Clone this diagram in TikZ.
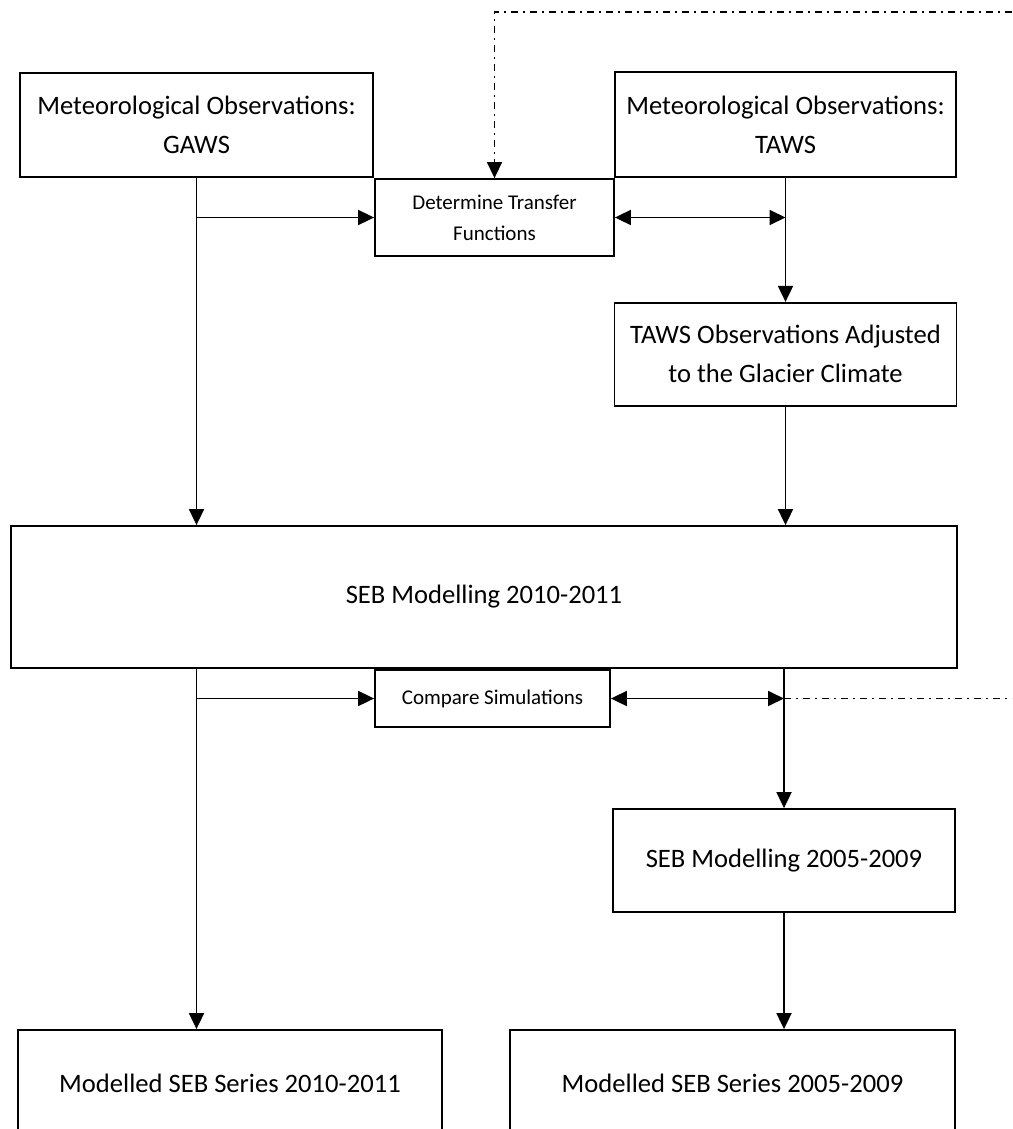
\documentclass[tikz,border=0pt]{standalone}
\usepackage{fontspec}
\setmainfont{Carlito}
\usepackage{tikz}
\usetikzlibrary{arrows.meta, positioning}
\newcommand{\boxfont}{\fontsize{26.6}{39}\selectfont}
\newcommand{\smallboxfont}{\fontsize{21}{31}\selectfont}
\tikzset{
  block/.style={draw, line width=1.8pt, inner sep=0pt, align=center, font=\boxfont},
  smallblock/.style={block, font=\smallboxfont},
  arr/.style={-{Triangle[length=16pt,width=15pt]}, line width=1.8pt},
  biarr/.style={{Triangle[length=16pt,width=15pt]}-{Triangle[length=16pt,width=15pt]}, line width=1.8pt},
  dashdot/.style={line width=1.5pt, dash pattern=on 7pt off 5pt on 2pt off 5pt}
}
\begin{document}
\begin{tikzpicture}[x=1pt, y=-1pt]
                \useasboundingbox (0,0) rectangle (1012,1129);
                \clip (0,0) rectangle (1012,1129);
                \node[block, minimum width=353pt, minimum height=104pt] (gaws) at (196.5,125) {Meteorological Observations:\\GAWS};
                \node[block, minimum width=341pt, minimum height=105pt] (taws) at (785.5,124.5) {Meteorological Observations:\\TAWS};
                \node[smallblock, minimum width=239pt, minimum height=77pt] (transfer) at (494.5,217.5) {Determine Transfer\\Functions};
                \node[block, minimum width=342pt, minimum height=103pt, below=124pt of taws] (adjusted) {TAWS Observations Adjusted\\to the Glacier Climate};
                \node[block, minimum width=946pt, minimum height=142pt] (seb10) at (484,597) {SEB Modelling 2010-2011};
                \node[smallblock, minimum width=235pt, minimum height=57pt] (compare) at (492.5,698.5) {Compare Simulations};
                \node[block, minimum width=342pt, minimum height=103pt] (seb05) at (784,860.5) {SEB Modelling 2005-2009};
                \node[block, minimum width=424pt, minimum height=106pt] (series10) at (230,1083) {Modelled SEB Series 2010-2011};
                \node[block, minimum width=445pt, minimum height=106pt] (series05) at (732.5,1083) {Modelled SEB Series 2005-2009};
                \coordinate (feedtop) at (1012,12);
                \coordinate (feedmid) at (1012,698.5);
                \draw[arr] (gaws.south) -- (gaws.south |- seb10.north);
                \draw[arr] (gaws.south |- transfer.west) -- (transfer.west);
                \draw[biarr] (transfer.east) -- (taws.south |- transfer.east);
                \draw[arr] (taws.south) -- (adjusted.north);
                \draw[arr] (adjusted.south) -- (adjusted.south |- seb10.north);
                \draw[arr] (gaws.south |- seb10.south) -- (gaws.south |- series10.north);
                \draw[arr] (gaws.south |- compare.west) -- (compare.west);
                \draw[biarr] (compare.east) -- (seb05.north |- compare.east);
                \draw[arr] (seb05.north |- seb10.south) -- (seb05.north);
                \draw[arr] (seb05.south) -- (seb05.south |- series05.north);
                \draw[dashdot, -{Triangle[length=16pt,width=15pt]}] (feedtop) -| (transfer.north);
                \draw[dashdot] (seb05.north |- compare.east) -- (feedmid);
            \end{tikzpicture}
\end{document}
